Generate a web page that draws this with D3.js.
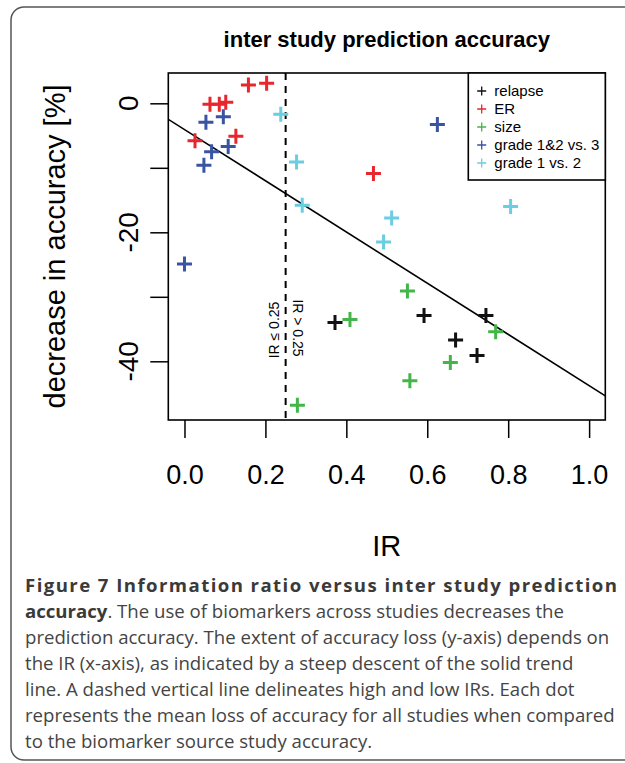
<!DOCTYPE html>
<html>
<head>
<meta charset="utf-8">
<script src="https://cdn.jsdelivr.net/npm/d3@7"></script>
<style>
  body { margin: 0; background: #fff; }
  svg { display: block; }
</style>
</head>
<body>
<div id="chart"></div>
<script>
// data
var relapseIR  = [0.372, 0.592, 0.745, 0.670, 0.723];
var relapseDec = [-34.0, -32.9, -32.9, -36.7, -39.1];
var erIR  = [0.158, 0.203, 0.063, 0.086, 0.102, 0.026, 0.127, 0.467];
var erDec = [2.85, 3.1, -0.16, -0.16, 0.16, -5.8, -5.1, -10.9];
var sizeIR  = [0.279, 0.409, 0.551, 0.769, 0.657, 0.557];
var sizeDec = [-46.8, -33.5, -29.1, -35.4, -40.2, -43.0];
var grade123IR  = [0.053, 0.096, 0.108, 0.067, 0.048, 0.0, 0.625];
var grade123Dec = [-2.95, -2.08, -6.7, -7.5, -9.6, -24.9, -3.3];
var grade12IR  = [0.238, 0.277, 0.291, 0.512, 0.492, 0.806];
var grade12Dec = [-1.7, -9.1, -15.8, -17.8, -21.5, -16.0];

var seriesNames = ["relapse", "ER", "size", "grade 1&2 vs. 3", "grade 1 vs. 2"];
var xTicks = [0, 0.2, 0.4, 0.6, 0.8, 1.0];
var yTicks = [0, -10, -20, -30, -40];
var yLabelled = [0, -20, -40];
var trendIntercept = -4.07, trendSlope = -39.7;
var irCut = 0.25;

var captionLines = [
  "The use of biomarkers across studies decreases the",
  "prediction accuracy. The extent of accuracy loss (y-axis) depends on",
  "the IR (x-axis), as indicated by a steep descent of the solid trend",
  "line. A dashed vertical line delineates high and low IRs. Each dot",
  "represents the mean loss of accuracy for all studies when compared",
  "to the biomarker source study accuracy."
];

var colors = ["#111111", "#e8262d", "#44b649", "#3a54a4", "#6acde0"];

var W = 625, H = 763;
var plot = {left: 168.3, right: 605.3, top: 73, bottom: 420};

var svg = d3.select("#chart").append("svg")
  .attr("width", W).attr("height", H);

// outer frame of the figure
svg.append("rect")
  .attr("x", 11).attr("y", 7).attr("width", 660).attr("height", 753)
  .attr("rx", 13).attr("ry", 13)
  .attr("fill", "none").attr("stroke", "#555").attr("stroke-width", 1.5);

var x = d3.scaleLinear().domain([-0.04, 1.04]).range([plot.left, plot.right]);
var y = d3.scaleLinear().domain([-49.1, 4.7]).range([plot.bottom, plot.top]);

var font = "'Liberation Sans', Arial, sans-serif";

// title
svg.append("text")
  .attr("x", (plot.left + plot.right) / 2).attr("y", 47)
  .attr("text-anchor", "middle")
  .style("font-family", font).style("font-weight", "bold").style("font-size", "22px")
  .text("inter study prediction accuracy");

// x axis
var xAxis = svg.append("g")
  .attr("transform", "translate(0," + plot.bottom + ")")
  .call(d3.axisBottom(x).tickValues(xTicks).tickSize(18).tickFormat(d3.format(".1f")));
xAxis.select(".domain").remove();
xAxis.selectAll(".tick line").attr("stroke", "#000").attr("stroke-width", 1.5);
xAxis.selectAll(".tick text")
  .attr("y", 64).attr("dy", null)
  .style("font-family", font).style("font-size", "27px").attr("fill", "#000");

// y axis
var yAxis = svg.append("g")
  .attr("transform", "translate(" + plot.left + ",0)")
  .call(d3.axisLeft(y).tickValues(yTicks).tickSize(18).tickFormat(""));
yAxis.select(".domain").remove();
yAxis.selectAll(".tick line").attr("stroke", "#000").attr("stroke-width", 1.5);

svg.selectAll(".ylab").data(yLabelled).enter().append("text")
  .attr("class", "ylab")
  .attr("transform", function(d) { return "translate(128," + y(d) + ") rotate(-90)"; })
  .attr("text-anchor", "middle").attr("dy", "0.35em")
  .style("font-family", font).style("font-size", "28px")
  .text(function(d) { return d; });

// axis titles
svg.append("text")
  .attr("x", (plot.left + plot.right) / 2).attr("y", 556)
  .attr("text-anchor", "middle")
  .style("font-family", font).style("font-size", "29px")
  .text("IR");

svg.append("text")
  .attr("transform", "translate(55," + (plot.top + plot.bottom) / 2 + ") rotate(-90)")
  .attr("text-anchor", "middle").attr("dy", "0.35em")
  .style("font-family", font).style("font-size", "29px")
  .text("decrease in accuracy [%]");

// clip for lines
svg.append("clipPath").attr("id", "clip").append("rect")
  .attr("x", plot.left).attr("y", plot.top)
  .attr("width", plot.right - plot.left).attr("height", plot.bottom - plot.top);

// trend line
var xd = x.domain();
svg.append("line")
  .attr("clip-path", "url(#clip)")
  .attr("x1", x(xd[0])).attr("y1", y(trendIntercept + trendSlope * xd[0]))
  .attr("x2", x(xd[1])).attr("y2", y(trendIntercept + trendSlope * xd[1]))
  .attr("stroke", "#000").attr("stroke-width", 1.6);

// dashed cut line
svg.append("line")
  .attr("x1", x(irCut)).attr("x2", x(irCut))
  .attr("y1", plot.top).attr("y2", plot.bottom)
  .attr("stroke", "#000").attr("stroke-width", 2)
  .attr("stroke-dasharray", "7,6");

svg.append("text")
  .attr("transform", "translate(" + (x(irCut) - 12) + ",330) rotate(-90)")
  .attr("text-anchor", "middle").attr("dy", "0.35em")
  .style("font-family", font).style("font-size", "14px")
  .text("IR \u2264 0.25");
svg.append("text")
  .attr("transform", "translate(" + (x(irCut) + 12) + ",328) rotate(90)")
  .attr("text-anchor", "middle").attr("dy", "0.35em")
  .style("font-family", font).style("font-size", "14px")
  .text("IR > 0.25");

// points
function plus(s) {
  return "M" + (-s) + ",0H" + s + "M0," + (-s) + "V" + s;
}
var series = [
  [relapseIR, relapseDec],
  [erIR, erDec],
  [sizeIR, sizeDec],
  [grade123IR, grade123Dec],
  [grade12IR, grade12Dec]
];
series.forEach(function(s, i) {
  var pts = s[0].map(function(v, j) { return [v, s[1][j]]; });
  svg.append("g").selectAll("path").data(pts).enter().append("path")
    .attr("transform", function(d) { return "translate(" + x(d[0]) + "," + y(d[1]) + ")"; })
    .attr("d", plus(7.5))
    .attr("stroke", colors[i]).attr("stroke-width", 3).attr("fill", "none");
});

// plot box
svg.append("rect")
  .attr("x", plot.left).attr("y", plot.top)
  .attr("width", plot.right - plot.left).attr("height", plot.bottom - plot.top)
  .attr("fill", "none").attr("stroke", "#000").attr("stroke-width", 1.6);

// legend
var leg = svg.append("g");
leg.append("rect")
  .attr("x", 468.3).attr("y", plot.top)
  .attr("width", plot.right - 468.3).attr("height", 107)
  .attr("fill", "#fff").attr("stroke", "#000").attr("stroke-width", 1.6);
seriesNames.forEach(function(name, i) {
  var cy = 91 + i * 18;
  leg.append("path")
    .attr("transform", "translate(481.7," + cy + ")")
    .attr("d", plus(4.5))
    .attr("stroke", colors[i]).attr("stroke-width", 1.3).attr("fill", "none");
  leg.append("text")
    .attr("x", 494.3).attr("y", cy).attr("dy", "0.35em")
    .style("font-family", font).style("font-size", "15px")
    .text(name);
});

// caption
var capFont = "'Open Sans', 'Noto Sans', sans-serif";
var capX = 25, capY0 = 592, capStep = 26;
svg.append("text")
  .attr("x", capX).attr("y", capY0)
  .attr("textLength", 617 - capX).attr("lengthAdjust", "spacing")
  .style("font-family", capFont).style("font-size", "18.6px").style("font-weight", "bold")
  .attr("fill", "#3a3a3a")
  .text("Figure 7 Information ratio versus inter study prediction");

captionLines.forEach(function(line, i) {
  var t = svg.append("text")
    .attr("x", capX).attr("y", capY0 + capStep * (i + 1))
    .style("font-family", capFont).style("font-size", "18.6px")
    .attr("fill", "#444");
  if (i === 0) {
    t.append("tspan").style("font-weight", "bold").attr("fill", "#3a3a3a").text("accuracy");
    t.append("tspan").text(". " + line);
  } else {
    t.text(line);
  }
});
</script>
</body>
</html>
